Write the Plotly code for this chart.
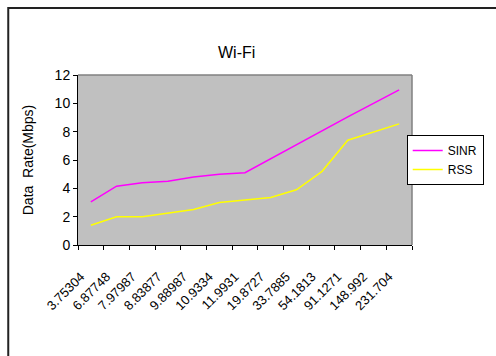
import plotly.graph_objects as go

categories = ["3.75304", "6.87748", "7.97987", "8.83877", "9.88987", "10.9334", "11.9931",
              "19.8727", "33.7885", "54.1813", "91.1271", "148.992", "231.704"]
sinr = [3.05, 4.15, 4.4, 4.5, 4.8, 5.0, 5.1, 6.1, 7.1, 8.05, 9.05, 10.0, 10.95]
rss = [1.4, 2.0, 2.0, 2.25, 2.5, 3.0, 3.2, 3.35, 3.9, 5.2, 7.4, 7.95, 8.55]

W, H = 496, 356
L, R, T, B = 78, 78, 75, 111
pw, ph = W - L - R, H - T - B

def px(x):
    return (x - L) / pw

def py(y):
    return (H - B - y) / ph

FONT = "Liberation Sans, Arial, sans-serif"

fig = go.Figure()
fig.add_trace(go.Scatter(x=categories, y=sinr, mode="lines", name="SINR",
                         line=dict(color="#FF00FF", width=1.5)))
fig.add_trace(go.Scatter(x=categories, y=rss, mode="lines", name="RSS",
                         line=dict(color="#FFFF00", width=1.5)))

fig.update_layout(
    width=W, height=H,
    margin=dict(l=L, r=R, t=T, b=B),
    paper_bgcolor="white",
    plot_bgcolor="#C0C0C0",
    font=dict(family=FONT, size=13, color="black"),
    showlegend=True,
    legend=dict(x=px(491), y=py(135), xanchor="right", yanchor="top",
                bordercolor="black", borderwidth=1, bgcolor="white",
                font=dict(size=12), tracegroupgap=0, itemwidth=30),
    xaxis=dict(type="category", range=[-0.5, 12.5], tickson="boundaries",
               ticks="outside", ticklen=4, tickcolor="black", tickangle=-45,
               ticklabelstandoff=18, ticklabelshift=-10,
               showline=True, linecolor="black", linewidth=1, showgrid=False,
               tickfont=dict(size=13)),
    yaxis=dict(range=[0, 12], dtick=2, ticks="outside", ticklen=4, tickcolor="black",
               showline=True, linecolor="black", linewidth=1, showgrid=False,
               zeroline=False, tickfont=dict(size=14),
               title=dict(text="Data  Rate(Mbps)", font=dict(size=14), standoff=17)),
    shapes=[
        dict(type="line", xref="paper", yref="paper", x0=0, x1=1, y0=1, y1=1,
             line=dict(color="#808080", width=1.5)),
        dict(type="line", xref="paper", yref="paper", x0=1, x1=1, y0=0, y1=1,
             line=dict(color="#808080", width=1.5)),
        dict(type="path", xref="paper", yref="paper",
             path=f"M {px(7)} {py(400)} L {px(7)} {py(8)} L {px(520)} {py(8)}",
             line=dict(color="#222222", width=2)),
    ],
    annotations=[
        dict(text="Wi-Fi", xref="paper", yref="paper", x=px(239), y=py(52),
             xanchor="center", yanchor="middle", showarrow=False,
             font=dict(size=16)),
    ],
)

fig.write_html("out.html", config={"displayModeBar": False},
               post_script="document.body.style.margin='0';")
